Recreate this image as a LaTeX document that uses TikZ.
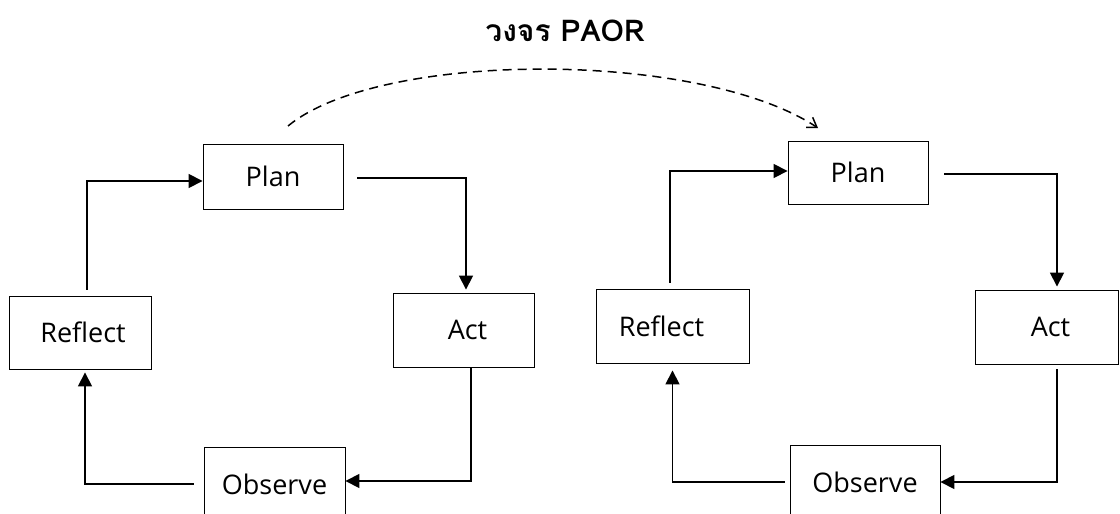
\documentclass[tikz,border=0pt]{standalone}
\usepackage{fontspec}
\setmainfont{Open Sans}
\newfontfamily\thaifont[Script=Thai]{Loma}
\usetikzlibrary{arrows.meta}
\begin{document}
\begin{tikzpicture}[x=1pt,y=-1pt,
  box/.style={draw, line width=0.9pt, inner sep=0pt, font=\fontsize{27}{30}\selectfont},
  arr/.style={line width=1.7pt, -{Triangle[length=14pt,width=14pt]}},
  dsh/.style={line width=1.5pt, dash pattern=on 9pt off 6pt, -{Straight Barb[length=9pt,width=12pt]}}]
\useasboundingbox (0,0) rectangle (1120,514);
\node[font=\thaifont\bfseries\fontsize{30}{33}\selectfont] (title) at (565,31) {วงจร PAOR};
% left cycle
\node[box, minimum width=140pt, minimum height=65pt] (plan1) at (273,176.5) {Plan};
\node[box, minimum width=142pt, minimum height=73pt] (refl1) at (80,332.5) {\hspace*{6pt}Reflect};
\node[box, minimum width=141pt, minimum height=74pt] (act1) at (463.5,330) {\hspace*{8pt}Act};
\node[box, minimum width=141pt, minimum height=74pt] (obs1) at (274.5,484) {Observe};
% right cycle
\node[box, minimum width=140pt, minimum height=63pt] (plan2) at (858,172.5) {Plan};
\node[box, minimum width=153pt, minimum height=74pt] (refl2) at (672.5,326) {\hspace*{-22pt}Reflect};
\node[box, minimum width=143pt, minimum height=74pt] (act2) at (1046.5,327) {\hspace*{8pt}Act};
\node[box, minimum width=150pt, minimum height=74pt] (obs2) at (865,482) {Observe};
% left connectors
\draw[arr] ([shift={(7,-6)}]refl1.north) |- ([shift={(0,4.5)}]plan1.west);
\draw[arr] ([shift={(14,1.5)}]plan1.east) -| ([shift={(2.5,-3)}]act1.north);
\draw[arr] ([shift={(7.5,0)}]act1.south) |- ([shift={(0,-3)}]obs1.east);
\draw[arr] ([shift={(-10,0)}]obs1.west) -| ([shift={(5,3)}]refl1.south);
% right connectors
\draw[arr] ([shift={(-2.5,-6)}]refl2.north) |- ([shift={(0,-1.5)}]plan2.west);
\draw[arr] ([shift={(16,1.5)}]plan2.east) -| ([shift={(10.5,-3)}]act2.north);
\draw[arr] ([shift={(10.5,5)}]act2.south) |- (obs2.east);
\draw[arr] ([shift={(-5,0)}]obs2.west) -| ([shift={(0,7)}]refl2.south);
% dashed arc
\coordinate (ds) at (288,126);
\coordinate (de) at (818,128);
\draw[dsh] (ds) .. controls (380,50) and (700,50) .. (de);
\end{tikzpicture}
\end{document}
